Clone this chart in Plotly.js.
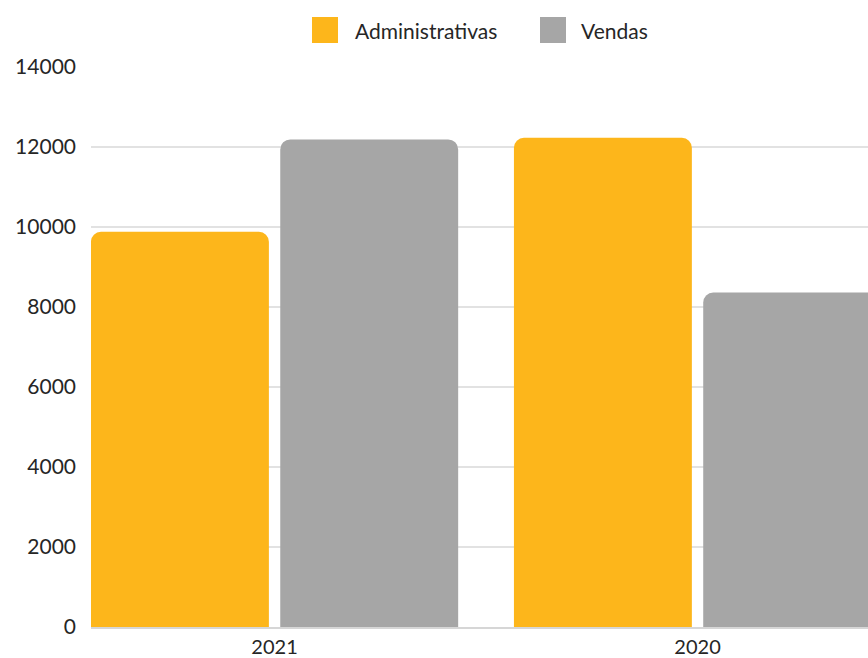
<!DOCTYPE html>
<html>
<head>
<meta charset="utf-8">
<script src="https://cdn.plot.ly/plotly-3.0.1.min.js"></script>
<style>
html,body{margin:0;padding:0;background:#fff;}
#chart{width:868px;height:658px;}
</style>
</head>
<body>
<div id="chart"></div>
<script>
// Data
var categories = ['2021', '2020'];
var seriesNames = ['Administrativas', 'Vendas'];
var administrativas = [9880, 12230];
var vendas = [12190, 8360];
var yTicks = [0, 2000, 4000, 6000, 8000, 10000, 12000, 14000];

var colors = {Administrativas: '#FDB61B', Vendas: '#A6A6A6'};
var FONT = 'Lato, "Open Sans", sans-serif';
var textColor = '#262626';

var W = 868, H = 658;
var M = {l: 91, r: 0, t: 67, b: 31};
var plotW = W - M.l - M.r, plotH = H - M.t - M.b;
function px(x) { return (x - M.l) / plotW; }
function py(y) { return (H - M.b - y) / plotH; }

var traces = [
  {type: 'bar', name: seriesNames[0], x: categories, y: administrativas,
   marker: {color: colors.Administrativas}, showlegend: false, hoverinfo: 'x+y+name'},
  {type: 'bar', name: seriesNames[1], x: categories, y: vendas,
   marker: {color: colors.Vendas}, showlegend: false, hoverinfo: 'x+y+name'}
];

// custom legend (large square swatches)
var legendItems = [
  {name: seriesNames[0], x0: 312, x1: 338, tx: 353},
  {name: seriesNames[1], x0: 540, x1: 566, tx: 579}
];
var shapes = [], annotations = [];
legendItems.forEach(function (it) {
  shapes.push({type: 'rect', xref: 'paper', yref: 'paper',
    x0: px(it.x0), x1: px(it.x1), y0: py(43), y1: py(17),
    fillcolor: colors[it.name], line: {width: 0}, layer: 'above'});
  annotations.push({xref: 'paper', yref: 'paper', x: px(it.tx), y: py(30),
    xanchor: 'left', yanchor: 'middle', showarrow: false, text: it.name,
    font: {family: FONT, size: 21, color: textColor}});
});

var layout = {
  width: W, height: H,
  margin: M,
  paper_bgcolor: '#ffffff', plot_bgcolor: '#ffffff',
  barmode: 'group',
  bargap: 0.105,
  bargroupgap: 0.06,
  barcornerradius: 10,
  showlegend: false,
  font: {family: FONT, color: textColor},
  xaxis: {
    type: 'category',
    range: [-0.434, 1.403],
    showgrid: false,
    showline: true, linecolor: '#d6d6d6', linewidth: 1.5,
    ticks: '',
    tickfont: {family: FONT, size: 20, color: textColor},
    ticklabelstandoff: 1,
    fixedrange: true
  },
  yaxis: {
    range: [0, 14000],
    tickvals: yTicks,
    ticktext: yTicks.map(String),
    showgrid: true, gridcolor: '#e2e2e2', gridwidth: 1.5,
    zeroline: false, showline: false,
    ticks: '',
    tickfont: {family: FONT, size: 21, color: textColor},
    ticklabelstandoff: 14,
    fixedrange: true
  },
  shapes: shapes,
  annotations: annotations
};

Plotly.newPlot('chart', traces, layout, {displayModeBar: false, staticPlot: true});
</script>
</body>
</html>
